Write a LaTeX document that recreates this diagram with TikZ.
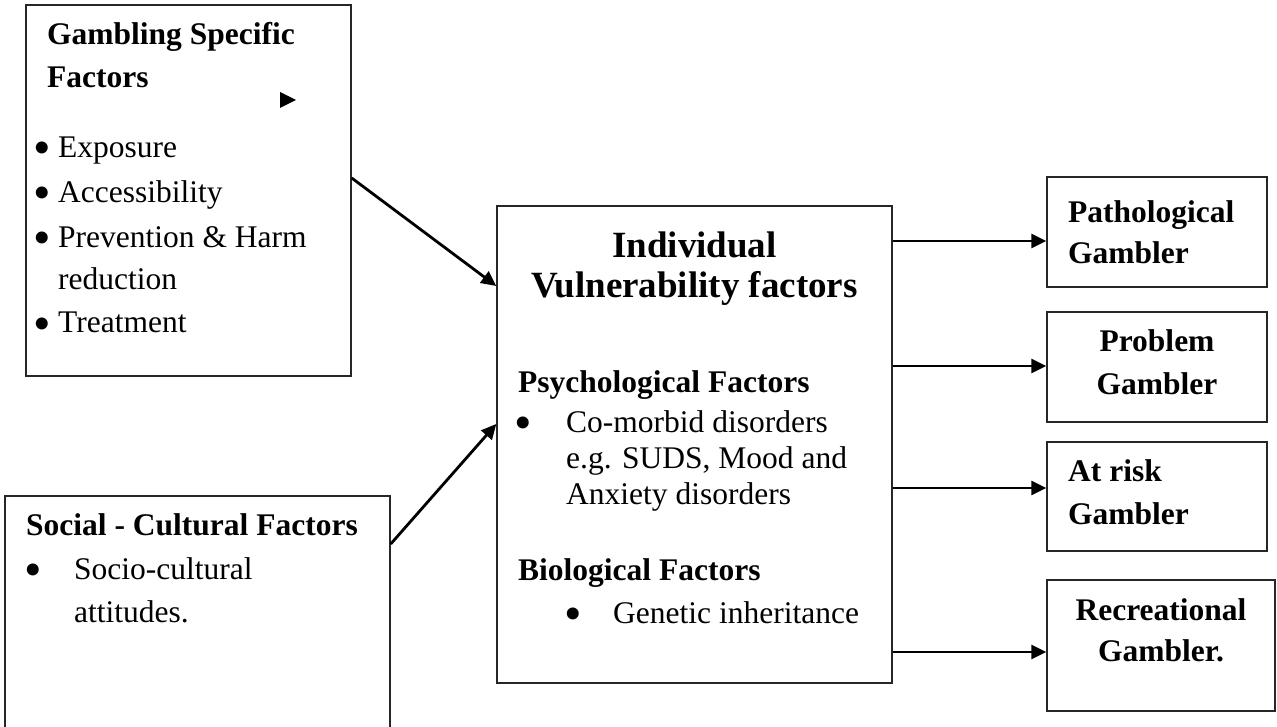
\documentclass[tikz,border=0pt]{standalone}
\usepackage{fontspec}
\setmainfont{Liberation Serif}
\usetikzlibrary{arrows.meta}
\newcommand{\mybul}{\smash{\textbullet}}
\begin{document}
\begin{tikzpicture}[x=1pt,y=-1pt,
  box/.style={draw=black!85, line width=1.4pt, rectangle, inner sep=0pt},
  txt/.style={anchor=base west, inner sep=0pt, font=\fontsize{31.5}{38}\selectfont},
  btxt/.style={anchor=base west, inner sep=0pt, font=\fontsize{31.5}{38}\selectfont\bfseries},
  ttl/.style={anchor=base, inner sep=0pt, font=\fontsize{37}{44}\selectfont\bfseries},
  ctxt/.style={anchor=base, inner sep=0pt, font=\fontsize{31.5}{38}\selectfont\bfseries},
  bul/.style={anchor=base, inner sep=0pt, yshift=-7pt, font=\fontsize{50}{50}\selectfont},
  arr/.style={line width=2.8pt, -{Triangle[length=15pt,width=14pt]}},
]
\useasboundingbox (0,0) rectangle (1277,727);
\clip (0,0) rectangle (1277,727);

% boxes
\node[box, minimum width=325pt, minimum height=371pt] (gsf) at (188.5,190.5) {};
\node[box, minimum width=385pt, minimum height=264pt] (scf) at (197.5,628) {};
\node[box, minimum width=395pt, minimum height=477pt] (ivf) at (694.5,444.5) {};
\node[box, minimum width=220pt, minimum height=110pt] (pg) at (1157,232) {};
\node[box, minimum width=220pt, minimum height=110pt] (prg) at (1157,367) {};
\node[box, minimum width=220pt, minimum height=109pt] (arg) at (1157,496.5) {};
\node[box, minimum width=228pt, minimum height=131pt] (rg) at (1161,645.5) {};

% gambling specific factors
\node[btxt] (g1) at (47,45) {Gambling Specific};
\node[btxt] (g2) at (47,88) {Factors};
\node[bul] (gb1) at (42,158) {\mybul};
\node[txt] (g3) at (58,158) {Exposure};
\node[bul] (gb2) at (42,203) {\mybul};
\node[txt] (g4) at (58,203) {Accessibility};
\node[bul] (gb3) at (42,248) {\mybul};
\node[txt] (g5) at (58,248) {Prevention \& Harm};
\node[txt] (g6) at (58,290) {reduction};
\node[bul] (gb4) at (42,333) {\mybul};
\node[txt] (g7) at (58,333) {Treatment};
\fill (280,92) -- (296,100) -- (280,108) -- cycle;

% social cultural factors
\node[btxt] (s1) at (26,535) {Social - Cultural Factors};
\node[bul] (sb1) at (33,579) {\mybul};
\node[txt] (s2) at (74,579) {Socio-cultural};
\node[txt] (s3) at (74,622) {attitudes.};

% individual vulnerability
\node[ttl] (i1) at (694.5,258) {Individual};
\node[ttl] (i2) at (694.5,298) {Vulnerability factors};
\node[btxt] (i3) at (518,392) {Psychological Factors};
\node[bul] (ib1) at (523,432) {\mybul};
\node[txt] (i4) at (566,432) {Co-morbid disorders};
\node[txt] (i5) at (566,468) {e.g. SUDS, Mood and};
\node[txt] (i6) at (566,504) {Anxiety disorders};
\node[btxt] (i7) at (518,580) {Biological Factors};
\node[bul] (ib2) at (573,623) {\mybul};
\node[txt] (i8) at (613,623) {Genetic inheritance};

% outcome boxes
\node[btxt] (p1) at (1068,223) {Pathological};
\node[btxt] (p2) at (1068,264) {Gambler};
\node[ctxt] (q1) at (1157,351) {Problem};
\node[ctxt] (q2) at (1157,394) {Gambler};
\node[btxt] (a1) at (1068,481) {At risk};
\node[btxt] (a2) at (1068,524) {Gambler};
\node[ctxt] (r1) at (1161,620) {Recreational};
\node[ctxt] (r2) at (1161,661) {Gambler.};

% connector rows
\coordinate (c1) at (0,178);
\coordinate (c2) at (0,286);
\coordinate (c3) at (0,544);
\coordinate (c4) at (0,424);
\coordinate (y1) at (0,241);
\coordinate (y2) at (0,366);
\coordinate (y3) at (0,488);
\coordinate (y4) at (0,652);

\draw[arr] (gsf.east |- c1) -- (ivf.west |- c2);
\draw[arr] (scf.east |- c3) -- (ivf.west |- c4);
\draw[arr] (ivf.east |- y1) -- (pg.west |- y1);
\draw[arr] (ivf.east |- y2) -- (prg.west |- y2);
\draw[arr] (ivf.east |- y3) -- (arg.west |- y3);
\draw[arr] (ivf.east |- y4) -- (rg.west |- y4);
\end{tikzpicture}
\end{document}
